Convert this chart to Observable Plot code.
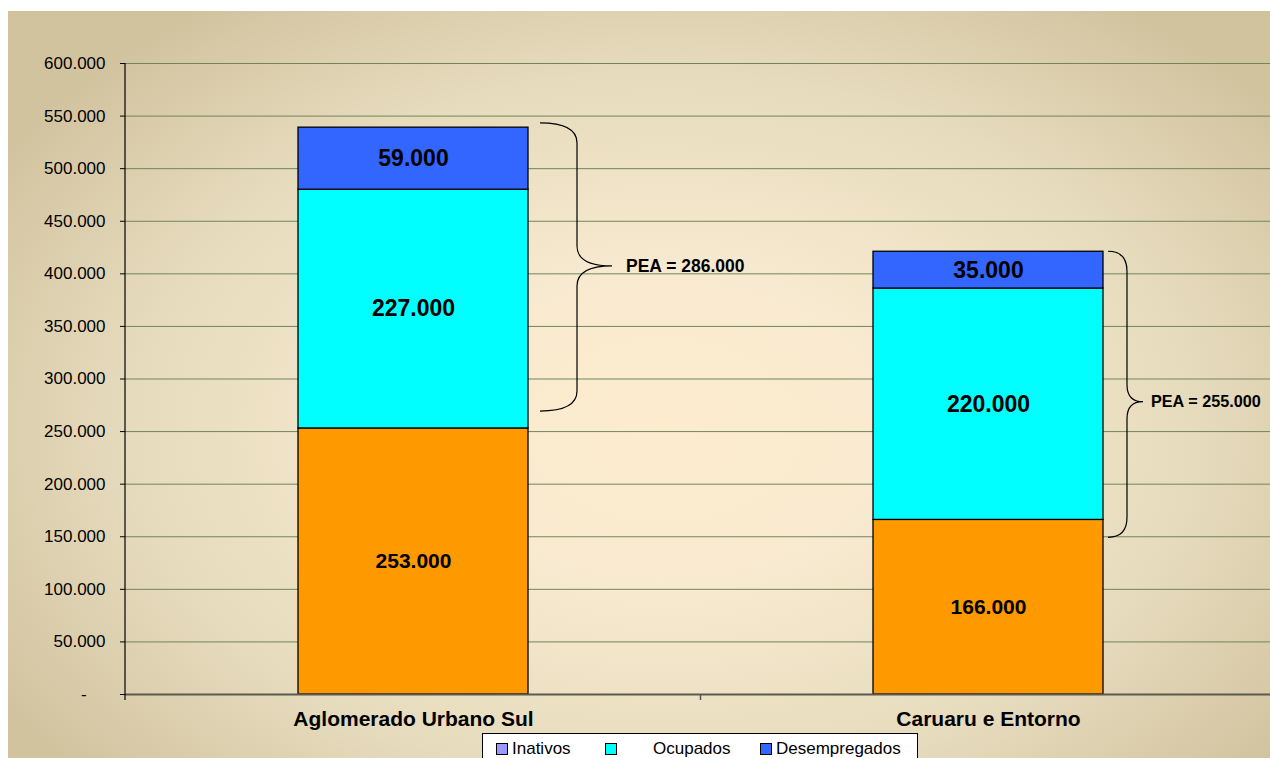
<!DOCTYPE html>
<html><head><meta charset="utf-8">
<script src="https://cdn.jsdelivr.net/npm/d3@7"></script>
<script src="https://cdn.jsdelivr.net/npm/@observablehq/plot@0.6"></script>
<style>
html,body{margin:0;padding:0;background:#fff;overflow:hidden;width:1270px;height:758px;}
#wrap{position:absolute;left:8px;top:11px;width:1262px;height:747px;overflow:hidden;
  background: radial-gradient(ellipse 62% 70% at 52% 56%, #fdecce 0%, #f8ead0 30%, #e6dbbd 68%, #d2c39f 100%);
  font-family:"Liberation Sans",Arial,sans-serif;}
#chart svg{display:block;background:transparent;overflow:hidden;max-width:none;}
#legend{position:absolute;left:474px;top:722px;width:434px;height:34px;background:#fff;border:1px solid #000;font-size:17px;color:#000;}
#legend .sw{position:absolute;top:9px;width:10px;height:10px;border:1px solid #000;}
#legend .lb{position:absolute;top:5px;line-height:20px;white-space:nowrap;}
</style>
</head><body>
<div id="wrap"><div id="chart"></div><div id="legend"></div></div>
<script>
// ---- data ----
const categories = ["Aglomerado Urbano Sul", "Caruaru e Entorno"];
const seriesNames = ["Inativos", "Ocupados", "Desempregados"];
const inativos = [253000, 166000];
const ocupados = [227000, 220000];
const desempregados = [59000, 35000];
const yTicks = [0, 50000, 100000, 150000, 200000, 250000, 300000, 350000, 400000, 450000, 500000, 550000, 600000];
// PEA brace extents (value units)
const peaTop = [543000, 421000];
const peaBottom = [269000, 149000];
const peaTip = [407000, 278000];

// ---- styles ----
const barColors = ["#ff9900", "#00ffff", "#3366ff"];
const legendColors = ["#9999ff", "#00ffff", "#3366ff"];
const labelSizes = [21, 23, 23];
const braceGeom = [
  {x0: 12, xs: 49, xt: 84, lx: 98, r: 20, rt: 20, fs: 17.5},
  {x0: 5, xs: 24, xt: 40, lx: 48, r: 20, rt: 17, fs: 16.2}
];

const fmt = v => d3.format(",")(v).replace(/,/g, ".");

// stacked table
const series = [inativos, ocupados, desempregados];
const rows = [];
categories.forEach((c, i) => {
  let acc = 0;
  series.forEach((s, k) => {
    rows.push({cat: c, name: seriesNames[k], k, y1: acc, y2: acc + s[i], value: s[i]});
    acc += s[i];
  });
});
const pea = categories.map((c, i) => ({cat: c, i, top: peaTop[i], bottom: peaBottom[i], tip: peaTip[i], total: ocupados[i] + desempregados[i]}));

function bw(x) { return typeof x.bandwidth === "function" ? x.bandwidth() : x.bandwidth; }

const axisLineMark = (index, {x, y}, values, dims) => {
  const g = d3.create("svg:g");
  g.append("line").attr("x1", dims.marginLeft).attr("x2", dims.marginLeft)
    .attr("y1", y(600000)).attr("y2", y(0) + 6).attr("stroke", "#000").attr("stroke-width", 1.2);
  const step = categories.length > 1 ? x(categories[1]) - x(categories[0]) : 0;
  for (let i = 0; i < categories.length - 1; i++) {
    const bx = x(categories[i]) + bw(x) + (step - bw(x)) / 2;
    g.append("line").attr("x1", bx).attr("x2", bx).attr("y1", y(0)).attr("y2", y(0) + 6)
      .attr("stroke", "#555").attr("stroke-width", 1.5);
  }
  return g.node();
};

const braceMark = (index, {x, y}) => {
  const g = d3.create("svg:g");
  pea.forEach(p => {
    const G = braceGeom[p.i];
    const right = x(p.cat) + bw(x);
    const x0 = right + G.x0, xs = right + G.xs, xt = right + G.xt;
    const yt = y(p.top), yb = y(p.bottom), ym = y(p.tip);
    const path = `M${x0},${yt} Q${xs},${yt} ${xs},${yt + G.r} L${xs},${ym - G.rt} Q${xs},${ym} ${xt},${ym}` +
      ` Q${xs},${ym} ${xs},${ym + G.rt} L${xs},${yb - G.r} Q${xs},${yb} ${x0},${yb}`;
    g.append("path").attr("d", path).attr("fill", "none").attr("stroke", "#000").attr("stroke-width", 1.2);
    g.append("text").attr("x", right + G.lx).attr("y", ym).attr("dy", "0.35em")
      .attr("text-anchor", "start")
      .attr("font-size", G.fs).attr("font-weight", "bold").attr("fill", "#000")
      .text("PEA = " + fmt(p.total));
  });
  return g.node();
};

const chart = Plot.plot({
  width: 1262,
  height: 722,
  marginTop: 52,
  marginBottom: 39,
  marginLeft: 117,
  marginRight: 0,
  style: {fontFamily: "'Liberation Sans', Arial, sans-serif", background: "transparent", overflow: "hidden"},
  x: {type: "band", domain: categories, range: [117, 1267.5], paddingInner: 0.6, paddingOuter: 0.3, label: null},
  y: {domain: [0, 600000], label: null},
  marks: [
    Plot.gridY(yTicks.filter(d => d > 0), {stroke: "#6f865a", strokeOpacity: 1, strokeWidth: 1}),
    Plot.axisY(yTicks, {tickSize: 5, tickPadding: 15, fontSize: 17, label: null,
      tickFormat: d => d === 0 ? "-\u00a0\u00a0\u00a0\u00a0" : fmt(d), color: "#000"}),
    Plot.axisX({tickSize: 0, tickPadding: 17, fontSize: 21, fontWeight: "bold", label: null, color: "#000"}),
    Plot.barY(rows, {x: "cat", y1: "y1", y2: "y2", fill: d => barColors[d.k], stroke: "#000", strokeWidth: 1.3}),
    Plot.ruleY([0], {stroke: "#5a5a4e", strokeWidth: 2}),
    axisLineMark,
    Plot.text(rows, {x: "cat", y: d => (d.y1 + d.y2) / 2, text: d => fmt(d.value),
      fontSize: d => labelSizes[d.k], fontWeight: "bold", fill: "#000"}),
    braceMark
  ]
});
document.getElementById("chart").appendChild(chart);

// legend
const lg = d3.select("#legend");
const swX = [13, 122, 277], lbX = [29, 170, 293];
seriesNames.forEach((n, k) => {
  lg.append("div").attr("class", "sw").style("left", swX[k] + "px").style("background", legendColors[k]);
  lg.append("div").attr("class", "lb").style("left", lbX[k] + "px").text(n);
});
</script>
</body></html>
